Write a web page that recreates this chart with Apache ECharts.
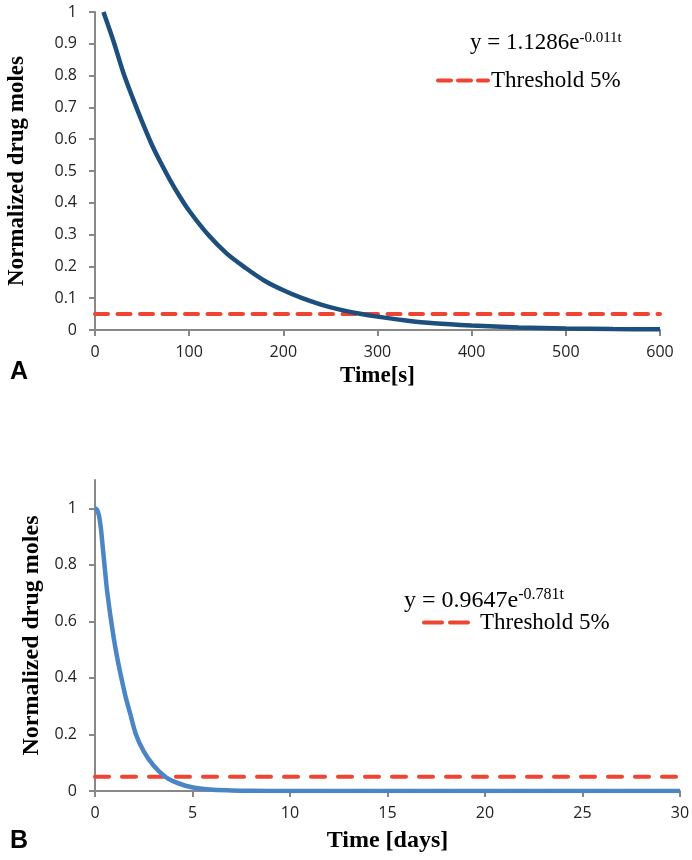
<!DOCTYPE html>
<html>
<head>
<meta charset="utf-8">
<script src="https://cdn.jsdelivr.net/npm/echarts@6/dist/echarts.min.js"></script>
<style>
  html, body { margin: 0; padding: 0; background: #fff; }
  #main { width: 692px; height: 860px; }
</style>
</head>
<body>
<div id="main"></div>
<script>
// panel A: seconds
var timeA = [9, 20, 30, 40, 50, 60, 70, 80, 90, 100, 120, 140, 160, 180, 200, 220, 240, 260, 280, 300, 330, 360, 400, 450, 500, 550, 600];
var molesA = [1.0, 0.905, 0.81, 0.73, 0.655, 0.585, 0.525, 0.47, 0.42, 0.375, 0.30, 0.24, 0.195, 0.155, 0.125, 0.10, 0.08, 0.064, 0.052, 0.042, 0.030, 0.021, 0.014, 0.008, 0.005, 0.003, 0.002];
var threshTimeA = [0, 600];

// panel B: days
var timeB = [0, 0.1, 0.2, 0.3, 0.4, 0.5, 0.6, 0.7, 0.8, 1.0, 1.2, 1.4, 1.6, 1.8, 2.1, 2.5, 3.0, 3.6, 4.0, 4.8, 5.9, 7, 8, 10, 15, 20, 25, 30];
var molesB = [1.0, 0.995, 0.975, 0.93, 0.86, 0.79, 0.72, 0.665, 0.615, 0.525, 0.45, 0.385, 0.325, 0.275, 0.2, 0.14, 0.09, 0.05, 0.035, 0.016, 0.005, 0.002, 0.001, 0, 0, 0, 0, 0];
var threshTimeB = [0, 29.8];

var threshold = 0.05;
var yTicksB = [0, 0.2, 0.4, 0.6, 0.8, 1];

function pairs(xs, ys) {
  var out = [];
  for (var i = 0; i < xs.length; i++) out.push([xs[i], ys[i]]);
  return out;
}

var red = '#ef4431';
var axisGray = '#888888';
var lblFont = { fontFamily: 'Open Sans', fontSize: 16, color: '#222' };
var titleFont = { fontFamily: 'Liberation Serif', fontWeight: 'bold', color: '#000' };

function xAx(idx, max, interval, name, gap, size) {
  return {
    type: 'value', gridIndex: idx, min: 0, max: max, interval: interval,
    name: name, nameLocation: 'middle', nameGap: gap,
    nameTextStyle: Object.assign({ fontSize: size }, titleFont),
    axisLine: { show: true, lineStyle: { color: axisGray, width: 2 } },
    axisTick: { show: true, length: 6, inside: false, lineStyle: { color: axisGray, width: 2 } },
    axisLabel: Object.assign({ margin: 14 }, lblFont),
    splitLine: { show: false }
  };
}

var myChart = echarts.init(document.getElementById('main'));

var option = {
  animation: false,
  backgroundColor: '#fff',
  grid: [
    { left: 95, right: 32, top: 12, height: 318, containLabel: false, outerBoundsMode: 'none' },
    { left: 95, right: 12, top: 480, height: 311, containLabel: false, outerBoundsMode: 'none' }
  ],
  xAxis: [
    xAx(0, 600, 100, 'Time[s]', 35, 23),
    xAx(1, 30, 5, 'Time [days]', 38, 24)
  ],
  yAxis: [
    {
      type: 'value', gridIndex: 0, min: 0, max: 1, interval: 0.1,
      name: 'Normalized drug moles', nameLocation: 'middle', nameGap: 66,
      nameTextStyle: Object.assign({ fontSize: 23 }, titleFont),
      axisLine: { show: true, lineStyle: { color: axisGray, width: 2 } },
      axisTick: { show: true, length: 6, lineStyle: { color: axisGray, width: 2 } },
      axisLabel: Object.assign({ margin: 18 }, lblFont),
      splitLine: { show: false }
    },
    {
      type: 'value', gridIndex: 1, min: 0, max: 1.1,
      name: 'Normalized drug moles', nameLocation: 'middle', nameGap: 46,
      nameTextStyle: Object.assign({ fontSize: 24 }, titleFont),
      axisLine: { show: true, lineStyle: { color: axisGray, width: 2 } },
      axisTick: { show: true, length: 6, customValues: yTicksB, lineStyle: { color: axisGray, width: 2 } },
      axisLabel: Object.assign({ margin: 18, customValues: yTicksB }, lblFont),
      splitLine: { show: false }
    }
  ],
  legend: [
    {
      data: ['Threshold 5%'], left: 431, top: 64, selectedMode: false,
      itemWidth: 50, itemHeight: 14,
      itemStyle: { color: 'transparent', borderColor: 'transparent', borderWidth: 0 },
      lineStyle: { width: 4, type: [13, 7], cap: 'round' },
      textStyle: { fontFamily: 'Liberation Serif', fontSize: 23, color: '#000', padding: [0, 0, 0, -2] }
    },
    {
      data: ['Threshold 5% '], left: 417, top: 606, selectedMode: false,
      itemWidth: 44, itemHeight: 14,
      itemStyle: { color: 'transparent', borderColor: 'transparent', borderWidth: 0 },
      lineStyle: { width: 4, type: [18, 8], cap: 'round' },
      textStyle: { fontFamily: 'Liberation Serif', fontSize: 23, color: '#000', padding: [0, 0, 0, 7] }
    }
  ],
  graphic: [
    {
      type: 'text', left: 470, top: 31,
      style: {
        text: '{m|y = 1.1286e}{s|-0.011t}',
        rich: {
          m: { fontFamily: 'Liberation Serif', fontSize: 23, fill: '#000' },
          s: { fontFamily: 'Liberation Serif', fontSize: 15, fill: '#000', padding: [0, 0, 8, 0] }
        }
      }
    },
    {
      type: 'text', left: 404, top: 587,
      style: {
        text: '{m|y = 0.9647e}{s|-0.781t}',
        rich: {
          m: { fontFamily: 'Liberation Serif', fontSize: 24, fill: '#000' },
          s: { fontFamily: 'Liberation Serif', fontSize: 16, fill: '#000', padding: [0, 0, 12, 0] }
        }
      }
    },
    {
      type: 'text', left: 10, top: 360,
      style: { text: 'A', fontFamily: 'Liberation Sans', fontWeight: 'bold', fontSize: 25, fill: '#000' }
    },
    {
      type: 'text', left: 10, top: 829,
      style: { text: 'B', fontFamily: 'Liberation Sans', fontWeight: 'bold', fontSize: 25, fill: '#000' }
    }
  ],
  series: [
    {
      name: 'Normalized drug moles A', type: 'line', xAxisIndex: 0, yAxisIndex: 0,
      data: pairs(timeA, molesA), showSymbol: false, symbol: 'none',
      smooth: 0.3,
      lineStyle: { color: '#1c4f7d', width: 4.5 }, z: 3
    },
    {
      name: 'Threshold 5%', type: 'line', xAxisIndex: 0, yAxisIndex: 0,
      data: pairs(threshTimeA, [threshold, threshold]), showSymbol: false, symbol: 'none',
      lineStyle: { color: red, width: 4, type: [13, 9.5], cap: 'round' }, itemStyle: { color: red }, z: 2
    },
    {
      name: 'Normalized drug moles B', type: 'line', xAxisIndex: 1, yAxisIndex: 1,
      data: pairs(timeB, molesB), showSymbol: false, symbol: 'none',
      smooth: 0.3,
      lineStyle: { color: '#4a86c6', width: 4.5 }, z: 3
    },
    {
      name: 'Threshold 5% ', type: 'line', xAxisIndex: 1, yAxisIndex: 1,
      data: pairs(threshTimeB, [threshold, threshold]), showSymbol: false, symbol: 'none',
      lineStyle: { color: red, width: 4, type: [14, 13], cap: 'round' }, itemStyle: { color: red }, z: 2
    }
  ]
};

option && myChart.setOption(option);
</script>
</body>
</html>
